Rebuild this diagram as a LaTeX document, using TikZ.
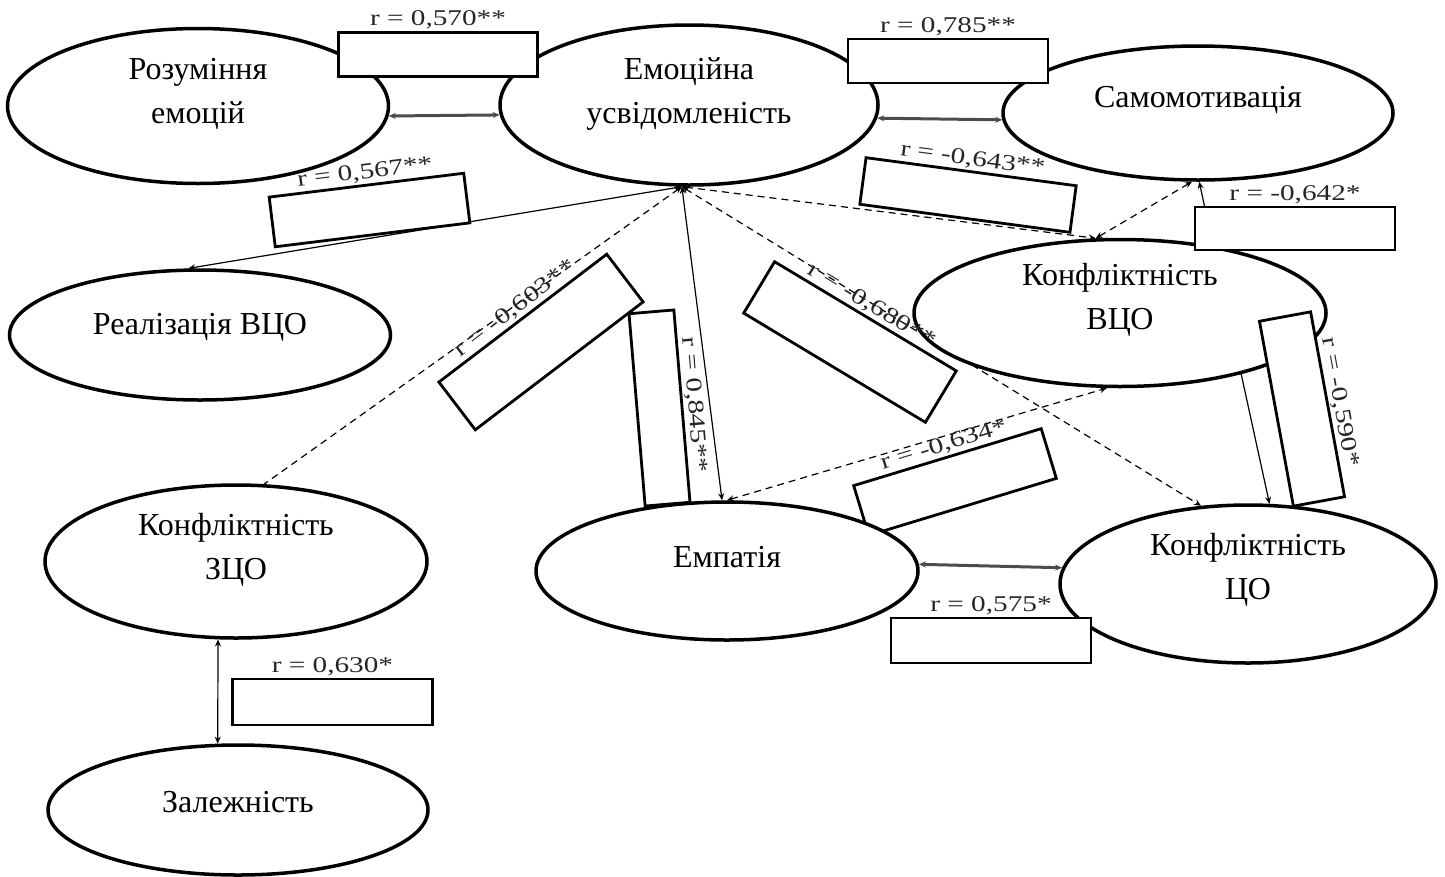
\documentclass[tikz,border=0pt]{standalone}
\usepackage{fontspec}
\setmainfont{Liberation Serif}
\newfontfamily\rfamily[FakeStretch=1.3]{Liberation Serif}
\usetikzlibrary{shapes.geometric,arrows.meta,backgrounds}

\begin{document}
\begin{tikzpicture}[x=1pt,y=-1pt,>={Stealth[length=7pt,width=6pt]},
        construct/.style={ellipse,draw,line width=3.5pt,fill=white,inner sep=0pt},
        conname/.style={font=\fontsize{32}{44}\selectfont,align=center,yshift=#1},
        conname/.default=12pt,
        rbox/.style={draw,line width=2.8pt,fill=white,inner sep=0pt,minimum width=200pt,minimum height=45pt},
        rtext/.style={font=\rfamily\fontsize{22.5}{26}\selectfont,text=black!85,inner sep=1.5pt,anchor=south},
        pair/.style={line width=3pt,draw=black!70},
        link/.style={line width=1.2pt},
        dlink/.style={line width=1.2pt,dash pattern=on 7pt off 5pt}]
        \useasboundingbox (0,0) rectangle (1445,876);
        % constructs
        \node[construct,minimum width=381pt,minimum height=155pt,label={[conname=12.5pt]center:Розуміння\\емоцій}] (ro) at (198,106) {};
        \node[construct,minimum width=378pt,minimum height=160pt,label={[conname=11.5pt]center:Емоційна\\усвідомленість}] (eu) at (689,105) {};
        \node[construct,minimum width=390pt,minimum height=134pt,label={[conname=13pt]center:Самомотивація}] (sm) at (1198,113) {};
        \node[construct,minimum width=381pt,minimum height=130pt,label={[conname=8pt]center:Реалізація ВЦО}] (rv) at (200,335) {};
        \node[construct,minimum width=412pt,minimum height=147pt,label={[conname=13pt]center:Конфліктність\\ВЦО}] (vc) at (1120,313) {};
        \node[construct,minimum width=382pt,minimum height=153pt,label={[conname]center:Конфліктність\\ЗЦО}] (zc) at (236,561.5) {};
        \node[construct,minimum width=376pt,minimum height=158pt,label={[conname=14pt]center:Конфліктність\\ЦО}] (co) at (1248,584) {};
        \node[construct,minimum width=380pt,minimum height=130pt,label={[conname=8pt]center:Залежність}] (za) at (238,810) {};
        % boxes
        \node[rbox,minimum width=199pt,minimum height=44pt] (bA) at (438,54.5) {};
        \node[rbox,minimum height=44pt] (bB) at (948,61) {};
        \node[rbox,rotate=7,minimum width=196pt,minimum height=50pt] (bC) at (369.5,210) {};
        \node[rbox,rotate=-7.6,minimum width=212pt,minimum height=47pt] (bD) at (968,195) {};
        \node[rbox,minimum height=43pt] (bE) at (1295,228.5) {};
        \node[rbox,rotate=-85.2,minimum width=193pt] (bG) at (659.5,408) {};
        \node[rbox,rotate=37.3,minimum width=211pt,minimum height=60pt] (bF) at (541,342) {};
        \node[rbox,rotate=-31,minimum width=212pt,minimum height=60pt] (bH) at (850,342) {};
        \node[rbox,rotate=16.9,minimum width=196pt,minimum height=52pt] (bI) at (955,482) {};
        \node[rbox,rotate=-79.6,minimum width=188pt,minimum height=52pt] (bJ) at (1302,409) {};
        \node[rbox] (bK) at (991,640.5) {};
        \node[rbox,minimum height=46pt] (bL) at (332.5,702) {};
        \node[construct,minimum width=382pt,minimum height=138pt,label={[conname=14pt]center:Емпатія}] (em) at (727,571) {};
        % coefficients
        \node[rtext] (tA) at (bA.north) {r = 0,570**};
        \node[rtext] (tB) at (bB.north) {r = 0,785**};
        \node[rtext,rotate=7] (tC) at (bC.north) {r = 0,567**};
        \node[rtext,rotate=-7.6] (tD) at (bD.north) {r = -0,643**};
        \node[rtext] (tE) at (bE.north) {r = -0,642*};
        \node[rtext,rotate=37.3] (tF) at (bF.north) {r = -0,603**};
        \node[rtext,rotate=-85.2] (tG) at (bG.north) {r = 0,845**};
        \node[rtext,rotate=-31] (tH) at (bH.north) {r = -0,680**};
        \node[rtext,rotate=16.9] (tI) at (bI.north) {r = -0,634*};
        \node[rtext,rotate=-79.6] (tJ) at (bJ.north) {r = -0,590*};
        \node[rtext] (tK) at (bK.north) {r = 0,575*};
        \node[rtext] (tL) at (bL.north) {r = 0,630*};
        % links
        \begin{scope}[on background layer]
            \draw[pair,<->] (ro.-3) -- (eu.183);
            \draw[pair,<->] (eu.-4) -- (sm.182);
            \draw[pair,<->] (em.2) -- (co.175);
            \draw[link,<->] (zc.257) -- (za.107);
            \draw[link,<->] (eu.265) -- (rv.100);
            \draw[dlink,<-] (eu.265) -- (zc.70);
            \draw[link,<->] (eu.265) -- (em.94);
            \draw[dlink,<->] (eu.265) -- (co.121);
            \draw[dlink,<->] (eu.265) -- (vc.108);
            \draw[dlink,<->] (sm.265) -- (vc.108);
            \draw[link,<->] (sm.271) -- (co.75);
            \draw[dlink,<->] (em.90) -- (vc.260);
        \end{scope}
    \end{tikzpicture}
\end{document}
